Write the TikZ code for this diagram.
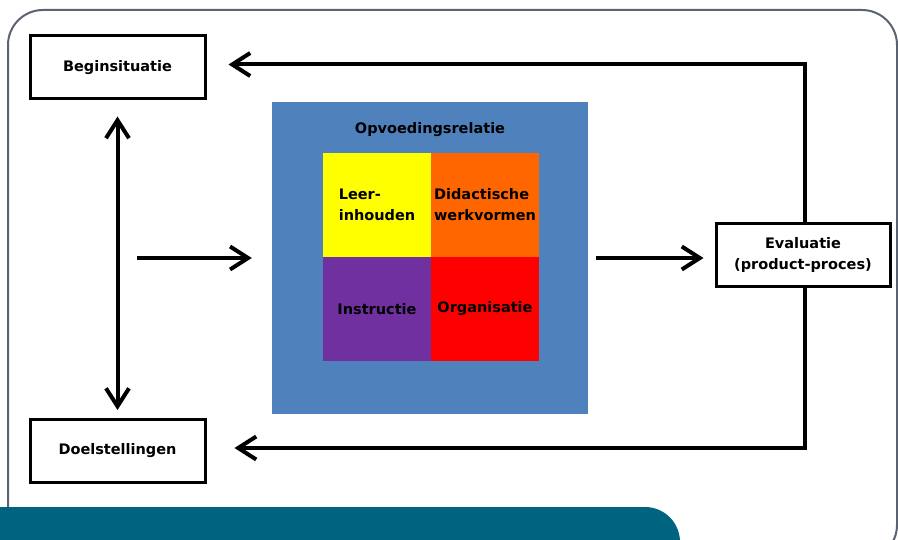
\documentclass[tikz,border=0pt]{standalone}
\usepackage{fontspec}
\setmainfont{DejaVu Sans}
\usetikzlibrary{arrows.meta,calc,positioning}
\definecolor{relblue}{HTML}{4F81BD}
\definecolor{leeryellow}{HTML}{FFFF00}
\definecolor{didorange}{HTML}{FF6600}
\definecolor{instrpurple}{HTML}{7030A0}
\definecolor{orgred}{HTML}{FF0000}
\definecolor{bannerteal}{HTML}{006380}
\definecolor{framegray}{HTML}{5B6272}

\begin{document}
\begin{tikzpicture}[x=1pt,y=-1pt,>={Straight Barb[length=18pt,width=23pt]},font=\fontsize{14.5}{21}\selectfont\bfseries]
\tikzstyle{stage}=[draw,line width=3pt,minimum width=175pt,minimum height=63pt,align=center,inner sep=0pt]
\tikzstyle{cell}=[minimum width=108pt,minimum height=104pt,inner sep=0pt,outer sep=0pt,align=left]
\tikzstyle{flow}=[->,line width=4pt]
\useasboundingbox (0,0) rectangle (898,540);
\draw[framegray,line width=2pt,rounded corners=35pt] (8,10) rectangle (897,560);
\node[stage] (begin) at (117.5,67.5) {Beginsituatie};
\node[stage] (doel) at (117.5,451) {Doelstellingen};
\node[stage,minimum width=174pt] (eval) at (803,255.5) {Evaluatie\\(product-proces)};
\node[fill=relblue,minimum width=316pt,minimum height=312pt,inner sep=0pt] (relatie) at (430,258) {};
\node (titel) at (430,130) {Opvoedingsrelatie};
\node[cell,fill=leeryellow] (leer) at (377,205) {Leer-\\inhouden};
\node[cell,fill=didorange,right=0pt of leer] (didac) {Didactische\\werkvormen};
\node[cell,fill=instrpurple,below=0pt of leer] (instr) {Instructie};
\node[cell,fill=orgred,right=0pt of instr] (org) {Organisatie};
\coordinate (start) at (137,258);
\draw[flow] (start) -- ([xshift=-20pt]relatie.west);
\draw[flow,shorten <=8pt,shorten >=11pt] (relatie.east) -- (relatie.east -| eval.west);
\draw[flow,<->,shorten <=16pt,shorten >=8pt] (begin.south) -- (doel.north);
\draw[flow] ([xshift=2pt]eval.north) |- ([xshift=22pt,yshift=3pt]begin.east);
\draw[flow] ([xshift=2pt]eval.south) |- ([xshift=28pt,yshift=3pt]doel.east);
\fill[bannerteal,rounded corners=35pt] (-40,507) rectangle (680,600);
\end{tikzpicture}
\end{document}
